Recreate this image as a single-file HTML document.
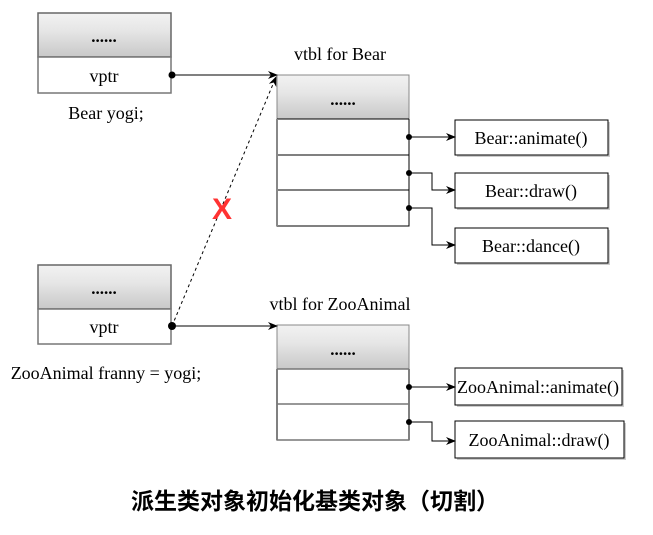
<!DOCTYPE html>
<html><head><meta charset="utf-8"><style>
body{margin:0;background:#fff;width:653px;height:530px;overflow:hidden}
</style></head><body>
<svg width="653" height="530" xmlns="http://www.w3.org/2000/svg" font-family="Liberation Serif, serif" font-size="18">
<defs>
<linearGradient id="g" x1="0" y1="0" x2="0" y2="1">
<stop offset="0" stop-color="#f2f2f2"/><stop offset="0.4" stop-color="#e6e6e6"/><stop offset="1" stop-color="#c8c8c8"/></linearGradient>
<marker id="a" markerWidth="10" markerHeight="8" refX="9" refY="4" orient="auto" markerUnits="userSpaceOnUse"><path d="M0,0 L10,4 L0,8 L3,4z" fill="#000"/></marker>
</defs>
<!-- Bear object -->
<rect x="38" y="13" width="133" height="44" fill="url(#g)" stroke="#666" stroke-width="1.5"/>
<rect x="38" y="57" width="133" height="36" fill="#fff" stroke="#777" stroke-width="1.5"/>
<text x="104" y="42" text-anchor="middle" font-weight="bold" font-size="17">......</text>
<text x="104" y="82" text-anchor="middle">vptr</text>
<text x="106" y="119" text-anchor="middle">Bear yogi;</text>
<!-- ZooAnimal object -->
<rect x="38" y="265" width="133" height="44" fill="url(#g)" stroke="#666" stroke-width="1.5"/>
<rect x="38" y="309" width="133" height="35" fill="#fff" stroke="#777" stroke-width="1.5"/>
<text x="104" y="294" text-anchor="middle" font-weight="bold" font-size="17">......</text>
<text x="104" y="333" text-anchor="middle">vptr</text>
<text x="106" y="379" text-anchor="middle">ZooAnimal franny = yogi;</text>
<!-- Bear vtbl -->
<text x="340" y="60" text-anchor="middle">vtbl for Bear</text>
<rect x="277" y="75" width="132" height="44" fill="url(#g)" stroke="#888" stroke-width="1"/>
<text x="343" y="105" text-anchor="middle" font-weight="bold" font-size="17">......</text>
<path d="M277,119 V226 H409 V119 M277,119 H409 M277,155 H409 M277,190 H409" fill="none" stroke="#000" stroke-width="1"/>
<line x1="277" y1="119" x2="277" y2="226" stroke="#888" stroke-width="2"/>
<!-- ZooAnimal vtbl -->
<text x="340" y="310" text-anchor="middle">vtbl for ZooAnimal</text>
<rect x="277" y="325" width="132" height="44" fill="url(#g)" stroke="#888" stroke-width="1"/>
<text x="343" y="355" text-anchor="middle" font-weight="bold" font-size="17">......</text>
<path d="M277,369 V440 H409 V369 M277,404 H409" fill="none" stroke="#000" stroke-width="1"/>
<line x1="277" y1="369" x2="409" y2="369" stroke="#777" stroke-width="1.5"/>
<line x1="277" y1="404" x2="409" y2="404" stroke="#777" stroke-width="1.5"/>
<line x1="277" y1="440" x2="409" y2="440" stroke="#777" stroke-width="1.5"/>
<!-- function boxes -->
<g fill="#fff" stroke="#000">
<rect x="457" y="122" width="153" height="35" fill="#ccc" stroke="none"/>
<rect x="455" y="120" width="153" height="35"/>
<rect x="457" y="175" width="153" height="35" fill="#ccc" stroke="none"/>
<rect x="455" y="173" width="153" height="35"/>
<rect x="457" y="230" width="153" height="35" fill="#ccc" stroke="none"/>
<rect x="455" y="228" width="153" height="35"/>
<rect x="457" y="370" width="167" height="37" fill="#ccc" stroke="none"/>
<rect x="455" y="368" width="167" height="37"/>
<rect x="457" y="423" width="169" height="37" fill="#ccc" stroke="none"/>
<rect x="455" y="421" width="169" height="37"/>
</g>
<g text-anchor="middle">
<text x="531" y="144">Bear::animate()</text>
<text x="531" y="197">Bear::draw()</text>
<text x="531" y="252">Bear::dance()</text>
<text x="538" y="393">ZooAnimal::animate()</text>
<text x="539" y="446">ZooAnimal::draw()</text>
</g>
<!-- connectors -->
<g fill="none" stroke="#000" stroke-width="1">
<path d="M172,75 H277" marker-end="url(#a)"/>
<path d="M172,326 H277" marker-end="url(#a)"/>
<path d="M172,326 L276,77" stroke-dasharray="3,3" marker-end="url(#a)"/>
<path d="M409,137 H455" marker-end="url(#a)"/>
<path d="M409,173 H432 V190 H455" marker-end="url(#a)"/>
<path d="M409,208 H432 V245 H455" marker-end="url(#a)"/>
<path d="M409,387 H455" marker-end="url(#a)"/>
<path d="M409,422 H432 V441 H455" marker-end="url(#a)"/>
</g>
<g fill="#000">
<circle cx="172" cy="75" r="3.5"/><circle cx="172" cy="326" r="4"/>
<circle cx="409" cy="137" r="3"/><circle cx="409" cy="173" r="3"/><circle cx="409" cy="208" r="3"/>
<circle cx="409" cy="387" r="3"/><circle cx="409" cy="422" r="3"/>
</g>
<text x="222" y="219" text-anchor="middle" font-family="Liberation Sans, sans-serif" font-weight="bold" font-size="30" fill="#ff3333">X</text>
<text x="315" y="509" text-anchor="middle" font-family="Liberation Sans, 'Noto Sans CJK SC', sans-serif" font-weight="bold" font-size="23">派生类对象初始化基类对象（切割）</text>
</svg>
</body></html>
